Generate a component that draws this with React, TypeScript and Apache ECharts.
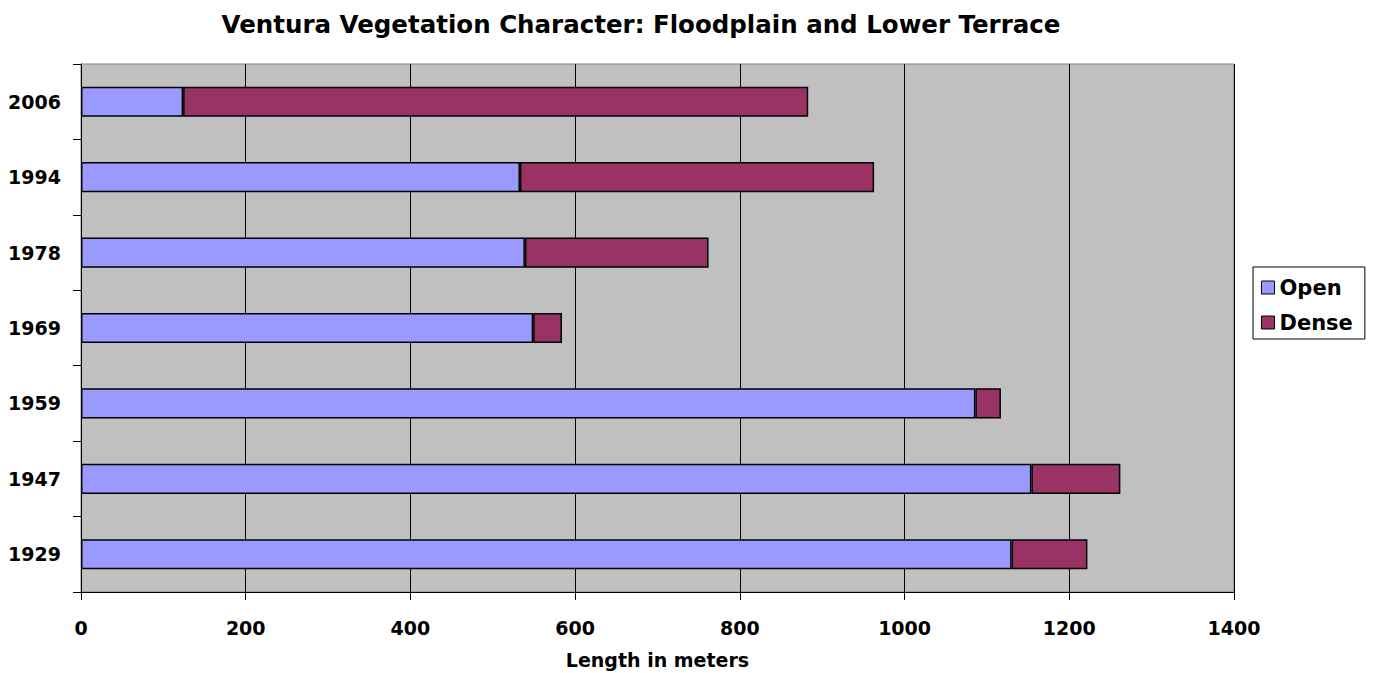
import React, { useEffect, useRef } from "react";
import * as echarts from "echarts";

const years = ["1929", "1947", "1959", "1969", "1978", "1994", "2006"];
const openValues = [1130, 1154, 1086, 549, 539, 533, 124];
const denseValues = [92, 108, 31, 35, 223, 430, 759];
const xTicks = { min: 0, max: 1400, interval: 200 };

const FONT = "'DejaVu Sans', sans-serif";

export default function App() {
  const ref = useRef<HTMLDivElement>(null);
  useEffect(() => {
    if (!ref.current) return;
    const chart = echarts.init(ref.current, null, { renderer: "svg" });
    chart.setOption({
      animation: false,
      backgroundColor: "#FFFFFF",
      title: {
        text: "Ventura Vegetation Character: Floodplain and Lower Terrace",
        left: 636,
        textAlign: "center",
        top: 7,
        textStyle: { fontFamily: FONT, fontWeight: "bold", fontSize: 24.5, color: "#000" },
      },
      legend: {
        orient: "vertical",
        left: 1253,
        top: 267,
        padding: [8, 12, 4, 8],
        itemGap: 10,
        itemWidth: 13,
        itemHeight: 13,
        borderColor: "#000",
        borderWidth: 1,
        icon: "rect",
        itemStyle: { borderColor: "#000", borderWidth: 1 },
        textStyle: { fontFamily: FONT, fontWeight: "bold", fontSize: 21, color: "#000", lineHeight: 25 },
        data: ["Open", "Dense"],
      },
      grid: {
        left: 81,
        right: 143,
        top: 64,
        bottom: 81,
        show: true,
        backgroundColor: "#C0C0C0",
        borderColor: "#808080",
        borderWidth: 1,
        containLabel: false,
        outerBoundsMode: "none",
      },
      xAxis: {
        type: "value",
        min: xTicks.min,
        max: xTicks.max,
        interval: xTicks.interval,
        name: "Length in meters",
        nameLocation: "middle",
        nameGap: 58,
        nameTextStyle: { fontFamily: FONT, fontWeight: "bold", fontSize: 19, color: "#000" },
        axisLine: { show: true, lineStyle: { color: "#000", width: 1 } },
        axisTick: { show: true, length: 8, lineStyle: { color: "#000" } },
        axisLabel: {
          margin: 26,
          fontFamily: FONT,
          fontWeight: "bold",
          fontSize: 19,
          color: "#000",
          formatter: (v: number) => String(v),
        },
        splitLine: { show: true, lineStyle: { color: "#000", width: 1 } },
      },
      yAxis: {
        type: "category",
        data: years,
        axisLine: { show: true, lineStyle: { color: "#000", width: 1 } },
        axisTick: { show: true, length: 8, lineStyle: { color: "#000" } },
        axisLabel: {
          margin: 20,
          fontFamily: FONT,
          fontWeight: "bold",
          fontSize: 19,
          color: "#000",
        },
        splitLine: { show: false },
      },
      series: [
        {
          name: "Open",
          type: "bar",
          stack: "total",
          data: openValues,
          barCategoryGap: "60%",
          itemStyle: { color: "#9999FF", borderColor: "#000", borderWidth: 1.5 },
        },
        {
          name: "Dense",
          type: "bar",
          stack: "total",
          data: denseValues,
          barCategoryGap: "60%",
          itemStyle: { color: "#993366", borderColor: "#000", borderWidth: 1.5 },
        },
      ],
    });
    return () => chart.dispose();
  }, []);
  return (
    <div
      ref={ref}
      style={{ position: "fixed", left: 0, top: 0, width: 1377, height: 673 }}
    />
  );
}
